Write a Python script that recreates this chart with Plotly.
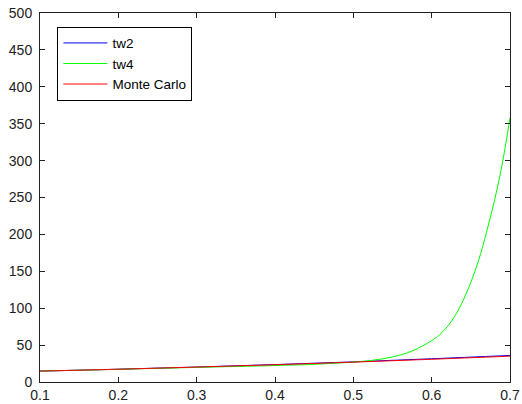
import plotly.graph_objects as go

x_tw2 = [0.1, 0.2, 0.3, 0.4, 0.5, 0.6, 0.7]
y_tw2 = [14.8, 17.3, 20.3, 23.6, 27.3, 31.5, 36.0]

x_tw4 = [0.1, 0.2, 0.3, 0.4, 0.45, 0.5, 0.525, 0.55, 0.575, 0.6, 0.61, 0.62,
         0.63, 0.64, 0.65, 0.66, 0.67, 0.68, 0.69, 0.7]
y_tw4 = [14.8, 17.2, 19.8, 22.3, 24.0, 27.0, 29.5, 34.0, 42.0, 56.0, 64.0, 75.0,
         90.0, 110.0, 135.0, 165.0, 203.0, 245.0, 295.0, 358.0]

x_mc = [0.1, 0.2, 0.3, 0.4, 0.5, 0.6, 0.7]
y_mc = [14.8, 17.3, 20.2, 23.4, 26.9, 30.8, 35.0]

x_ticks = [0.1, 0.2, 0.3, 0.4, 0.5, 0.6, 0.7]
x_ticklabels = ["0.1", "0.2", "0.3", "0.4", "0.5", "0.6", "0.7"]
y_ticks = [0, 50, 100, 150, 200, 250, 300, 350, 400, 450, 500]

FONT = "Liberation Sans, Arial, Helvetica"

fig = go.Figure()
fig.add_trace(go.Scatter(x=x_tw2, y=y_tw2, mode="lines", name="tw2",
                         line=dict(color="rgb(0,0,255)", width=1, shape="spline")))
fig.add_trace(go.Scatter(x=x_tw4, y=y_tw4, mode="lines", name="tw4",
                         line=dict(color="rgb(0,255,0)", width=1, shape="spline")))
fig.add_trace(go.Scatter(x=x_mc, y=y_mc, mode="lines", name="Monte Carlo",
                         line=dict(color="rgb(255,0,0)", width=1, shape="spline")))

axis_common = dict(showgrid=False, zeroline=False, showline=True, linecolor="#222",
                   linewidth=1, mirror="ticks", ticks="inside", ticklen=5,
                   tickcolor="#222", automargin=False,
                   tickfont=dict(family=FONT, size=14, color="#222"))

fig.update_xaxes(range=[0.1, 0.7], tickvals=x_ticks, ticktext=x_ticklabels,
                 ticklabelstandoff=0, **axis_common)
fig.update_yaxes(range=[0, 500], tickvals=y_ticks, ticklabelstandoff=4, **axis_common)

fig.update_layout(
    width=522, height=404,
    margin=dict(l=40, r=12, t=13, b=22),
    paper_bgcolor="white", plot_bgcolor="white",
    font=dict(family=FONT, size=14, color="black"),
    showlegend=True,
    legend=dict(x=0.037, y=0.963, xanchor="left", yanchor="top",
                bordercolor="black", borderwidth=1, bgcolor="white",
                font=dict(family=FONT, size=13.5, color="black"),
                tracegroupgap=0, itemwidth=44),
)

fig.write_html("out.html", config={"displayModeBar": False},
               post_script="document.body.style.margin='0px';document.body.style.overflow='hidden';")
